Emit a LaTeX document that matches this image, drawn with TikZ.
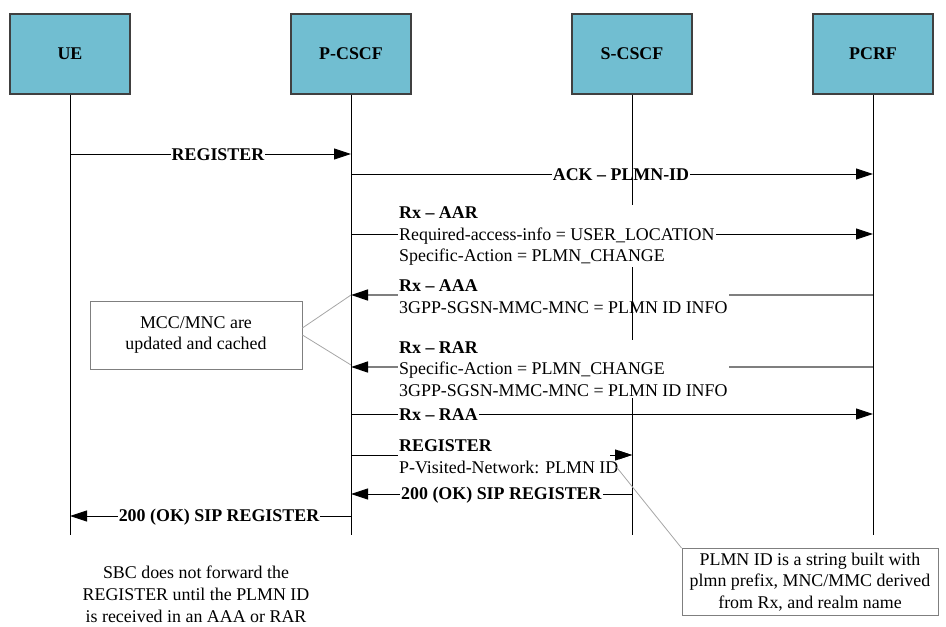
\documentclass[tikz,border=0pt]{standalone}
\usepackage{fontspec}
\setmainfont{Liberation Serif}
\usepackage{xcolor}
\usetikzlibrary{calc,positioning,arrows.meta}
\definecolor{boxteal}{HTML}{71BED1}
\definecolor{boxedge}{HTML}{404040}
\definecolor{msggray}{HTML}{7F7F7F}
\definecolor{notegray}{HTML}{A6A6A6}
\newcommand{\Txt}{\fontsize{17.9}{21.8}\selectfont}

\begin{document}
\begin{tikzpicture}[x=1pt,y=-1pt,
    entity/.style={draw=boxedge, line width=1.2pt, fill=boxteal, minimum width=120pt,
                   minimum height=80pt, font=\Txt\bfseries},
    msg/.style={line width=0.9pt, -{Triangle[length=17pt,width=11pt]}},
    rmsg/.style={draw=msggray, line width=1.3pt, -{Triangle[length=17pt,width=11pt,color=black]}},
    lbl/.style={font=\Txt, fill=white, inner sep=1pt, align=left},
    note/.style={draw=msggray, line width=0.8pt, font=\Txt, align=center, inner sep=0pt},
    leader/.style={draw=notegray, line width=0.8pt}]
  \useasboundingbox (0,0) rectangle (946,627);
  % entities
  \foreach \nm/\x/\txt in {ue/70/UE, pcscf/351/P-CSCF, scscf/632/S-CSCF, pcrf/873/PCRF}{
    \node[entity] (\nm) at (\x,54) {\txt};
    \coordinate (\nm-end) at (\x,535);
  }
  % messages
  \foreach \a/\b/\y in {ue/pcscf/154, pcscf/pcrf/174, pcscf/pcrf/234, pcscf/pcrf/414,
                        pcscf/scscf/455, scscf/pcscf/494, pcscf/ue/516}
    \draw[msg] (\a |- 0,\y) -- (\b |- 0,\y);
  \foreach \y in {295,367}
    \draw[rmsg] (pcrf |- 0,\y) -- (pcscf |- 0,\y);
  \node[lbl, font=\Txt\bfseries] (ack) at (621,175) {ACK – PLMN-ID};
  \node[lbl, anchor=west] (aaa) at (398,297)
    {\textbf{Rx – AAA}\\3GPP-SGSN-MMC-MNC = PLMN ID INFO};
  % lifelines
  \foreach \nm in {ue,pcscf,scscf,pcrf}
    \draw[line width=0.9pt] (\nm.south) -- (\nm-end);
  \node[lbl, font=\Txt\bfseries] (reg1) at (218,155) {REGISTER};
  \node[lbl, anchor=west] (aar) at (398,236)
    {\textbf{Rx – AAR}\\Required-access-info = USER\_LOCATION\\Specific-Action = PLMN\_CHANGE};
  \node[lbl, anchor=west] (rar) at (398,369)
    {\textbf{Rx – RAR}\\Specific-Action = PLMN\_CHANGE\\3GPP-SGSN-MMC-MNC = PLMN ID INFO};
  \node[lbl, anchor=west, font=\Txt\bfseries] (raa) at (398,415) {Rx – RAA};
  \node[lbl, anchor=west] (reg2) at (398,457)
    {\textbf{REGISTER}\\P-Visited-Network: PLMN ID};
  \draw[msg] ($(scscf |- 0,455)+(-22,0)$) -- (scscf |- 0,455);
  \node[lbl, anchor=west, font=\Txt\bfseries] (ok1) at (400,495) {200 (OK) SIP REGISTER};
  \node[lbl, font=\Txt\bfseries] (ok2) at (219,517) {200 (OK) SIP REGISTER};
  % notes
  \node[note, minimum width=212pt, minimum height=68pt] (cache) at (196,335)
    {MCC/MNC are\\updated and cached};
  \draw[leader] (cache.east |- 0,328) -- (pcscf |- 0,295);
  \draw[leader] (cache.east |- 0,335) -- (pcscf |- 0,365);
  \node[note, minimum width=256pt, minimum height=67pt] (plmn) at (810,582)
    {PLMN ID is a string built with\\plmn prefix, MNC/MMC derived\\from Rx, and realm name};
  \draw[leader] ($(reg2.south east)+(-3,-8)$) -- (plmn.north west);
  \node[font=\Txt, align=center, inner sep=0pt] (sbc) at (196,594)
    {SBC does not forward the\\REGISTER until the PLMN ID\\is received in an AAA or RAR};
\end{tikzpicture}
\end{document}
